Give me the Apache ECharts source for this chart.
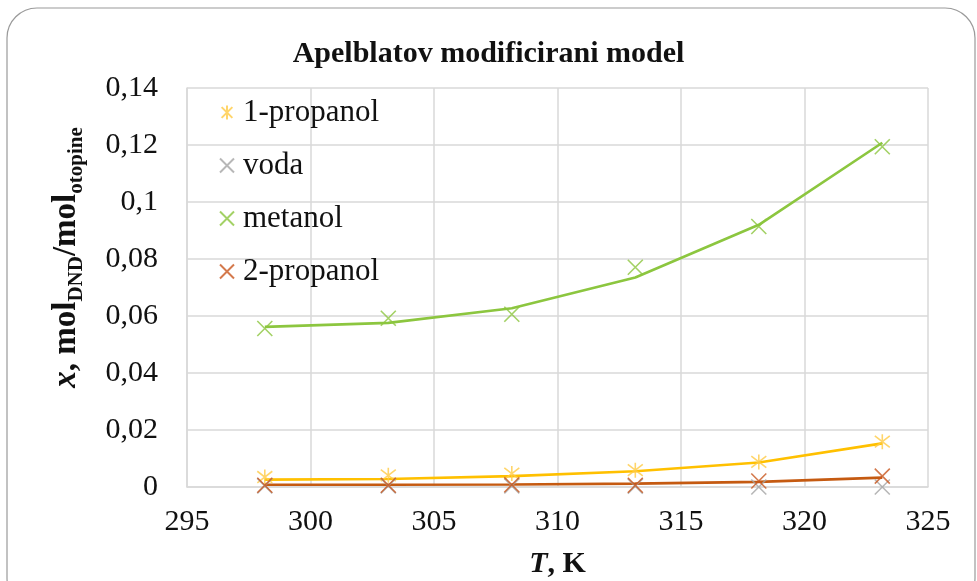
<!DOCTYPE html>
<html>
<head>
<meta charset="utf-8">
<script src="https://cdn.jsdelivr.net/npm/echarts@6/dist/echarts.min.js"></script>
<style>html,body{margin:0;padding:0;background:#fff;}#c{width:977px;height:581px;}</style>
</head>
<body>
<div id="c"></div>
<script>
// Temperatures, K
const T = [298.15, 303.15, 308.15, 313.15, 318.15, 323.15];
// Experimental mole fractions (markers)
const exp1Propanol = [0.0035, 0.0041, 0.0047, 0.0059, 0.0088, 0.0159];
const expVoda      = [0.0004, 0.0004, 0.0004, 0.0003, 0.0000, 0.0000];
const expMetanol   = [0.0556, 0.0592, 0.0606, 0.0771, 0.0914, 0.1194];
const exp2Propanol = [0.0006, 0.0006, 0.0008, 0.0006, 0.0021, 0.0038];
// Modified Apelblat model (lines)
const mod1Propanol = [0.0026, 0.0028, 0.0038, 0.0055, 0.0086, 0.0153];
const modMetanol   = [0.0562, 0.0576, 0.0627, 0.0735, 0.0920, 0.1208];
const mod2Propanol = [0.0008, 0.0008, 0.0009, 0.0012, 0.0018, 0.0033];
// Axis ticks
const xTicks = [295, 300, 305, 310, 315, 320, 325];
const yTicks = [0, 0.02, 0.04, 0.06, 0.08, 0.1, 0.12, 0.14];

const pairs = (xs, ys) => xs.map((x, i) => [x, ys[i]]);
const FONT = '"Liberation Serif", "Times New Roman", serif';
const XMARK = 'path://M0,0L10,10M10,0L0,10';
const STAR = 'path://M0,0L10,10M10,0L0,10M5,-1.5L5,11.5';

function scatter(name, data, color, sym) {
  return {
    name, type: 'scatter', data: pairs(T, data), symbol: sym, symbolSize: 15,
    clip: false, z: 4,
    itemStyle: { color: 'rgba(0,0,0,0)', borderColor: color, borderWidth: 1.6 }
  };
}
function line(data, color) {
  return {
    type: 'line', data: pairs(T, data), symbol: 'none', smooth: false, z: 3,
    lineStyle: { color, width: 2.6 }, silent: true
  };
}

const chart = echarts.init(document.getElementById('c'));
chart.setOption({
  backgroundColor: '#fff',
  animation: false,
  graphic: [{
    type: 'rect', shape: { x: 7, y: 8, width: 968, height: 600, r: 30 },
    style: { fill: 'none', stroke: '#9a9a9a', lineWidth: 1.2 }, z: -10
  }],
  title: {
    text: 'Apelblatov modificirani model', left: 'center', top: 34,
    textStyle: { fontFamily: FONT, fontWeight: 'bold', fontSize: 30, color: '#111' }
  },
  grid: { left: 187, right: 49, top: 88, bottom: 94, containLabel: false, outerBoundsMode: 'none' },
  legend: {
    orient: 'vertical', left: 214, top: 92, itemGap: 22,
    itemWidth: 14, itemHeight: 14,
    textStyle: { fontFamily: FONT, fontSize: 31, color: '#111', padding: [0, 0, 0, 4] },
    data: ['1-propanol', 'voda', 'metanol', '2-propanol']
  },
  xAxis: {
    type: 'value', min: 295, max: 325, interval: 5,
    name: '{i|T}{b|, K}', nameLocation: 'middle', nameGap: 62,
    nameTextStyle: {
      rich: {
        i: { fontFamily: FONT, fontSize: 30, fontWeight: 'bold', fontStyle: 'italic', color: '#111' },
        b: { fontFamily: FONT, fontSize: 30, fontWeight: 'bold', color: '#111' }
      }
    },
    axisLine: { show: true, lineStyle: { color: '#d9d9d9', width: 1.5 } },
    axisTick: { show: false },
    splitLine: { show: true, lineStyle: { color: '#d9d9d9', width: 1.5 } },
    axisLabel: {
      fontFamily: FONT, fontSize: 30, color: '#111', margin: 20,
      customValues: xTicks
    }
  },
  yAxis: {
    type: 'value', min: 0, max: 0.14, interval: 0.02,
    name: '{i|x}{b|, mol}{s|DND}{b|/mol}{s|otopine}',
    nameLocation: 'middle', nameGap: 104, nameRotate: 90,
    nameTextStyle: {
      padding: [0, 0, 0, 60],
      rich: {
        i: { fontFamily: FONT, fontSize: 33, fontWeight: 'bold', fontStyle: 'italic', color: '#111', verticalAlign: 'bottom' },
        b: { fontFamily: FONT, fontSize: 33, fontWeight: 'bold', color: '#111', verticalAlign: 'bottom' },
        s: { fontFamily: FONT, fontSize: 21, fontWeight: 'bold', color: '#111', verticalAlign: 'bottom', padding: [0, 0, -4, 0] }
      }
    },
    axisLine: { show: true, lineStyle: { color: '#d9d9d9', width: 1.5 } },
    axisTick: { show: false },
    splitLine: { show: true, lineStyle: { color: '#d9d9d9', width: 1.5 } },
    axisLabel: {
      fontFamily: FONT, fontSize: 30, color: '#111', margin: 29,
      customValues: yTicks,
      formatter: v => String(+(+v).toFixed(2)).replace('.', ',')
    }
  },
  series: [
    line(mod1Propanol, '#FFC000'),
    line(modMetanol, '#8CC63F'),
    line(mod2Propanol, '#C55A11'),
    scatter('1-propanol', exp1Propanol, '#FFCB45', STAR),
    scatter('voda', expVoda, '#A5A5A5', XMARK),
    scatter('metanol', expMetanol, '#8CC63F', XMARK),
    scatter('2-propanol', exp2Propanol, '#C9581F', XMARK)
  ]
});
</script>
</body>
</html>
